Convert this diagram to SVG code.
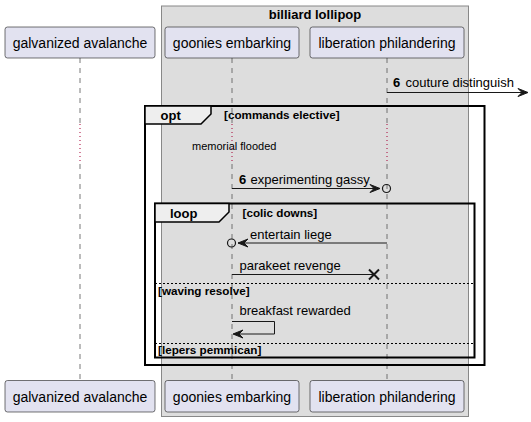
<svg xmlns="http://www.w3.org/2000/svg" width="531" height="422" viewBox="0 0 531 422">
<style>
text{font-family:"Liberation Sans",Arial,sans-serif;fill:#000}
.pt{font-size:14px;text-anchor:middle}
.msg{font-size:13px}
.num{font-size:13px;font-weight:bold}
.kw{font-size:13px;font-weight:bold}
.grd{font-size:11.7px;font-weight:bold}
.part{fill:#E2E2F0;stroke:#181818;stroke-width:0.6}
.life{stroke:#555;stroke-width:0.8;stroke-dasharray:5,5;fill:none}
.delay{stroke:#A80036;stroke-width:1;stroke-dasharray:1,3;fill:none}
.ln{stroke:#181818;stroke-width:1;fill:none}
.head{fill:#181818;stroke:#181818;stroke-width:1}
.frame{fill:none;stroke:#000;stroke-width:2}
.tab{fill:#EEEEEE;stroke:#000;stroke-width:1.5}
.sep{stroke:#000;stroke-width:1;stroke-dasharray:2,2;fill:none}
</style>
<g id="box-billiard-lollipop">
<rect x="161.5" y="6" width="307" height="410.5" fill="#DDDDDD" stroke="#888" stroke-width="1"/>
<text x="315" y="19" style="font-size:13px;font-weight:bold;text-anchor:middle">billiard lollipop</text>
</g>
<g id="lifelines">
<path class="life" d="M80,58 V124 M80,164 V380"/>
<path class="delay" d="M80,124 V164"/>
<path class="life" d="M232,58 V124 M232,164 V380"/>
<path class="delay" d="M232,124 V164"/>
<path class="life" d="M387,58 V124 M387,164 V380"/>
<path class="delay" d="M387,124 V164"/>
</g>
<g id="galvanized-avalanche">
<rect class="part" x="5" y="27" width="150" height="31" rx="2.5"/>
<text class="pt" x="80" y="47.5">galvanized avalanche</text>
<rect class="part" x="5" y="380.5" width="150" height="31.5" rx="2.5"/>
<text class="pt" x="80" y="401.5">galvanized avalanche</text>
</g>
<g id="goonies-embarking">
<rect class="part" x="165" y="27" width="134" height="31" rx="2.5"/>
<text class="pt" x="232" y="47.5">goonies embarking</text>
<rect class="part" x="165" y="380.5" width="134" height="31.5" rx="2.5"/>
<text class="pt" x="232" y="401.5">goonies embarking</text>
</g>
<g id="liberation-philandering">
<rect class="part" x="310" y="27" width="154" height="31" rx="2.5"/>
<text class="pt" x="387" y="47.5">liberation philandering</text>
<rect class="part" x="310" y="380.5" width="154" height="31.5" rx="2.5"/>
<text class="pt" x="387" y="401.5">liberation philandering</text>
</g>
<g id="opt-frame">
<rect class="frame" x="145" y="106" width="339.5" height="259"/>
<polygon class="tab" points="145,106 211,106 211,114 201,124 145,124"/>
<text class="kw" x="160.5" y="119.5">opt</text>
<text class="grd" x="224" y="119">[commands elective]</text>
</g>
<g id="delay-memorial-flooded">
<text x="192" y="149.5" style="font-size:11px">memorial flooded</text>
</g>
<g id="loop-frame">
<rect class="frame" x="155" y="203.5" width="319.5" height="154"/>
<polygon class="tab" points="155,203.5 229,203.5 229,212 219,222 155,222"/>
<text class="kw" x="170" y="217.5">loop</text>
<text class="grd" x="242.5" y="217">[colic downs]</text>
<path class="sep" d="M155,283.5 H474.5"/>
<text class="grd" x="158" y="294.5">[waving resolve]</text>
<path class="sep" d="M155,343.5 H474.5"/>
<text class="grd" x="158" y="353.5">[lepers pemmican]</text>
</g>
<g id="connectors">
<g id="msg-couture-distinguish">
<path class="ln" d="M387,92.5 H526"/>
<polygon class="head" points="518,88.5 528,92.5 518,96.5 522,92.5"/>
<text class="num" x="393" y="86.5">6</text>
<text class="msg" x="405.5" y="86.5">couture distinguish</text>
</g>
<g id="msg-experimenting-gassy">
<path class="ln" d="M232,188.5 H379"/>
<polygon class="head" points="370,184.5 380,188.5 370,192.5 374,188.5"/>
<circle cx="386.5" cy="188.5" r="4" fill="none" stroke="#181818" stroke-width="1.2"/>
<text class="num" x="239" y="183.5">6</text>
<text class="msg" x="250.5" y="183.5">experimenting gassy</text>
</g>
<g id="msg-entertain-liege">
<path class="ln" d="M387,243 H238"/>
<polygon class="head" points="248,239 238,243 248,247 244,243"/>
<circle cx="231.5" cy="243" r="4" fill="none" stroke="#181818" stroke-width="1.2"/>
<text class="msg" x="250" y="239">entertain liege</text>
</g>
<g id="msg-parakeet-revenge">
<path class="ln" d="M232,274.5 H374"/>
<path d="M369,269.5 L379,279.5 M379,269.5 L369,279.5" stroke="#181818" stroke-width="2" fill="none"/>
<text class="msg" x="239.5" y="269.5">parakeet revenge</text>
</g>
<g id="msg-breakfast-rewarded">
<path class="ln" d="M232,321.5 H274.5 V334 H234"/>
<polygon class="head" points="243,330 233,334 243,338 239,334"/>
<text class="msg" x="239.5" y="315">breakfast rewarded</text>
</g>
</g>
</svg>
